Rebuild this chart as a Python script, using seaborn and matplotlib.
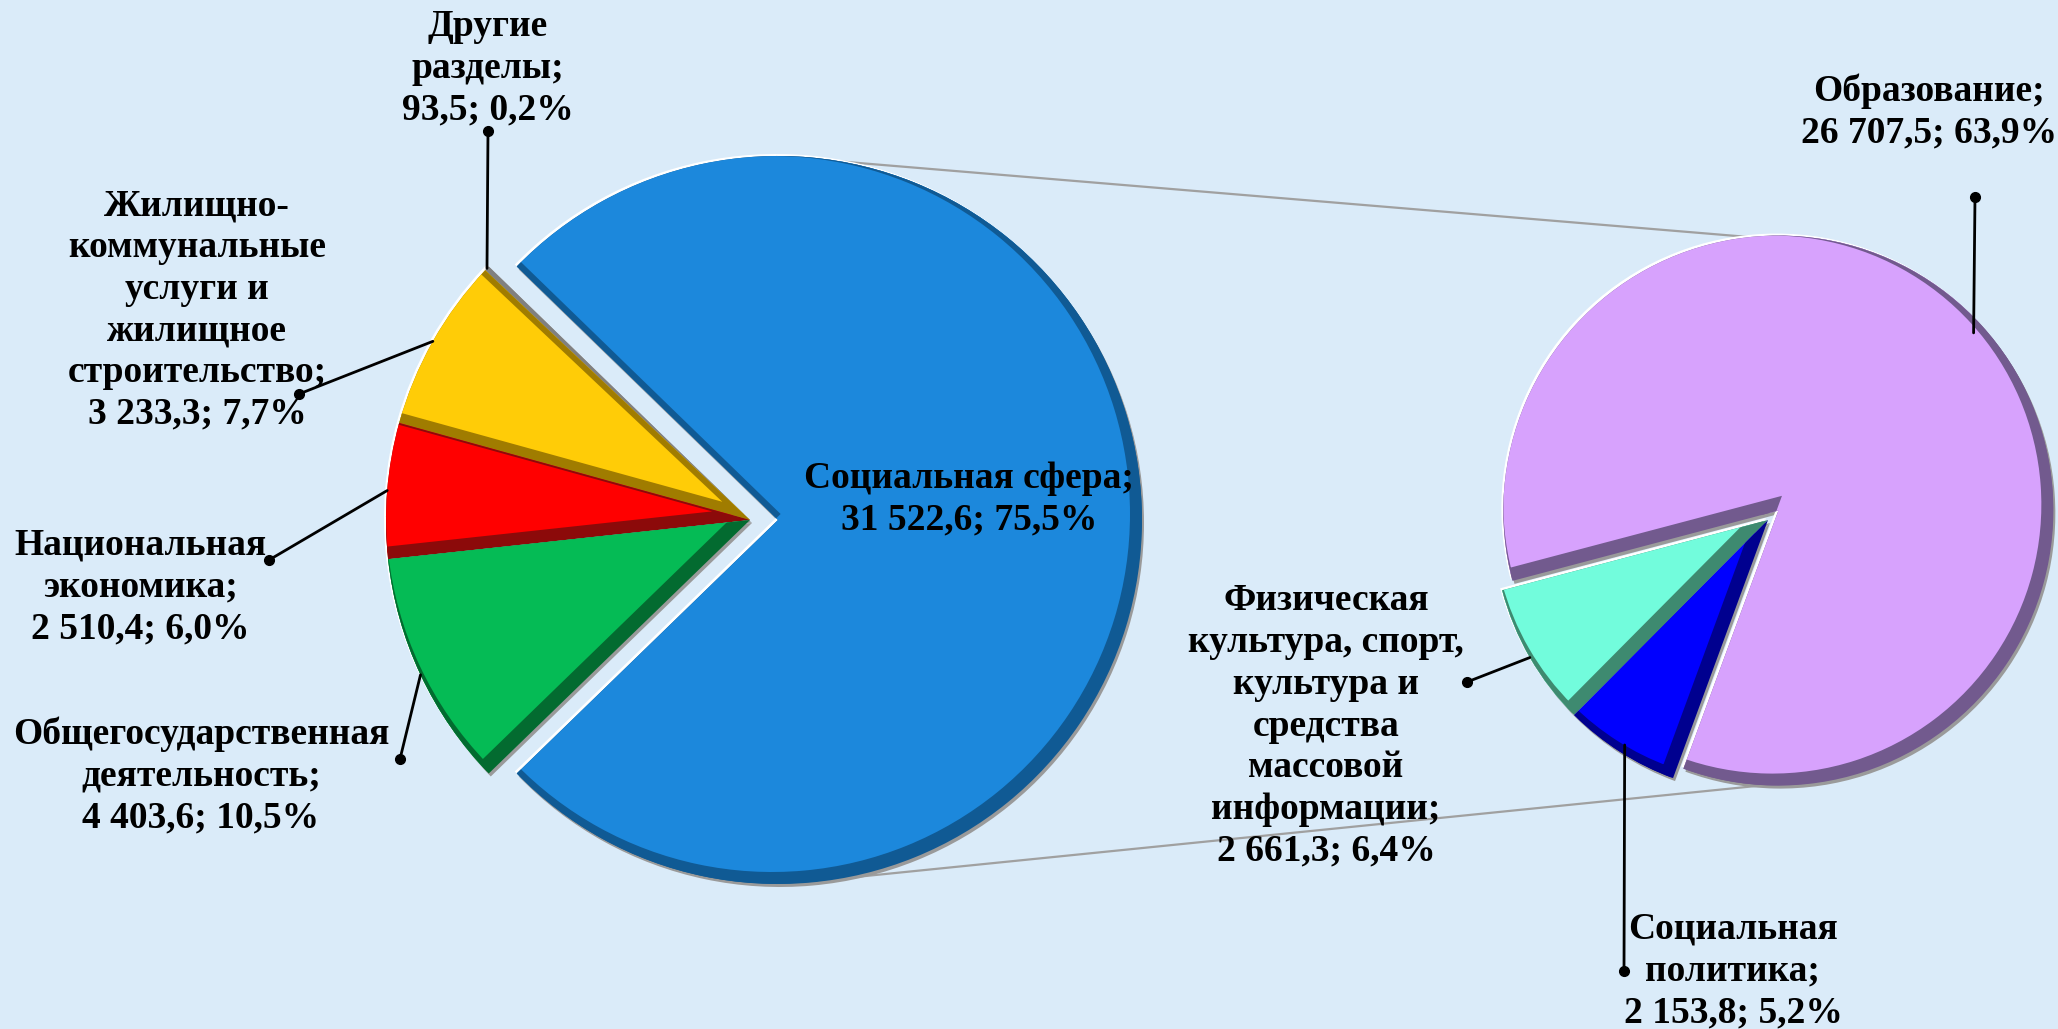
import numpy as np
import matplotlib
matplotlib.use('Agg')
import matplotlib.pyplot as plt
import seaborn as sns

# left pie: budget by section
main_names = ['Социальная сфера', 'Другие\nразделы',
              'Жилищно-\nкоммунальные\nуслуги и\nжилищное\nстроительство',
              'Национальная\nэкономика', 'Общегосударственная\nдеятельность']
main_values = [31522.6, 93.5, 3233.3, 2510.4, 4403.6]
main_shares = [75.5, 0.2, 7.7, 6.0, 10.5]
main_colors = ['#1C88DC', '#B0B0B0', '#FFCC07', '#FF0000', '#05BB55']
main_dark = ['#105A94', '#808080', '#A07C00', '#8C0A0A', '#036B30']

# right pie: breakdown of the social sphere
social_names = ['Образование',
                'Физическая\nкультура, спорт,\nкультура и\nсредства\nмассовой\nинформации',
                'Социальная\nполитика']
social_values = [26707.5, 2661.3, 2153.8]
social_shares = [63.9, 6.4, 5.2]
social_colors = ['#D7A2FD', '#72FCDC', '#0000FF']
social_dark = ['#725A8E', '#3E8A70', '#00008F']

BG = '#DAEBF9'
W, H = 2058, 1029
RIM = 6  # bevel width, px


def fmt_value(v):
    return f"{v:,.1f}".replace(',', ' ').replace('.', ',')


def fmt_label(name, v, p):
    return f"{name};\n{fmt_value(v)}; {p:.1f}%".replace('.', ',')


def draw_pie(ax, values, colors, dark, center, radius, start, explode):
    n = len(values)
    cx, cy = center
    kw = dict(startangle=start, explode=explode, radius=radius,
              wedgeprops=dict(linewidth=0))
    # gray shadow and white highlight round the slices
    ax.pie(values, colors=['#9A9A9A'] * n, center=(cx + 2, cy - 3), **kw)
    ax.pie(values, colors=['white'] * n, center=(cx - 2, cy + 2), **kw)
    # dark body of each slice
    base, _ = ax.pie(values, colors=dark, center=center, **kw)
    # lit face, shifted to the top left, rimmed and cut to the body
    faces, _ = ax.pie(values, colors=colors, center=(cx - RIM, cy + RIM), **kw)
    for b, f, d in zip(base, faces, dark):
        f.set_edgecolor(d)
        f.set_linewidth(2 * RIM * 0.72)
        f.set_clip_on(True)
        f.set_clip_path(b.get_path(), b.get_transform())
    return base


def arc_point(w, k=1.0):
    a = np.deg2rad((w.theta1 + w.theta2) / 2)
    return w.center[0] + k * w.r * np.cos(a), w.center[1] + k * w.r * np.sin(a)


sns.set_theme(style='white')
plt.rcParams['font.family'] = ['Liberation Serif', 'DejaVu Serif']

fig = plt.figure(figsize=(W / 100, H / 100), dpi=100, facecolor=BG)
ax = fig.add_axes([0, 0, 1, 1])
ax.set_facecolor(BG)

main_frac = main_values[0] / sum(main_values)
left = draw_pie(ax, main_values, main_colors, main_dark, (750, 509), 364,
                -main_frac * 180, [28, 0, 0, 0, 0])
right = draw_pie(ax, social_values, social_colors, social_dark, (1768, 509), 275,
                 -110.2, [14, 0, 0])

# connector lines between the pies
blue, violet = left[0], right[0]
for la, ra in [(80, 96), (-80, -93)]:
    x1 = blue.center[0] + blue.r * np.cos(np.deg2rad(la))
    y1 = blue.center[1] + blue.r * np.sin(np.deg2rad(la))
    x2 = violet.center[0] + violet.r * np.cos(np.deg2rad(ra))
    y2 = violet.center[1] + violet.r * np.sin(np.deg2rad(ra))
    ax.plot([x1, x2], [y1, y2], color='#A0A0A0', lw=1.6, zorder=0)

tkw = dict(ha='center', va='center', fontsize=27, fontweight='bold',
           color='black', linespacing=1.25, zorder=5)

# label text position, leader dot position (None = no leader), arc factor
main_layout = [((969, 530), None, 1.0),
               ((488, 961), (488, 898), 1.0),
               ((197, 719), (299, 635), 1.0),
               ((140, 442), (269, 469), 1.0),
               ((201, 253), (400, 270), 1.0)]
social_layout = [((1929, 917), (1975, 832), 0.96),
                 ((1326, 303), (1467, 347), 1.0),
                 ((1733, 58), (1624, 58), 0.97)]

for wedges, names, vals, shares, layout in [
        (left, main_names, main_values, main_shares, main_layout),
        (right, social_names, social_values, social_shares, social_layout)]:
    for w, nm, v, p, (tpos, dot, k) in zip(wedges, names, vals, shares, layout):
        ax.text(tpos[0], tpos[1], fmt_label(nm, v, p), **tkw)
        if dot is not None:
            px, py = arc_point(w, k)
            ax.plot([dot[0], px], [dot[1], py], color='black', lw=2, zorder=4)
            ax.plot(dot[0], dot[1], marker='o', ms=7, color='black', zorder=4)

ax.set_xlim(0, W)
ax.set_ylim(0, H)
ax.set_aspect('equal')
ax.axis('off')

fig.savefig('out.png', dpi=100, facecolor=BG)
